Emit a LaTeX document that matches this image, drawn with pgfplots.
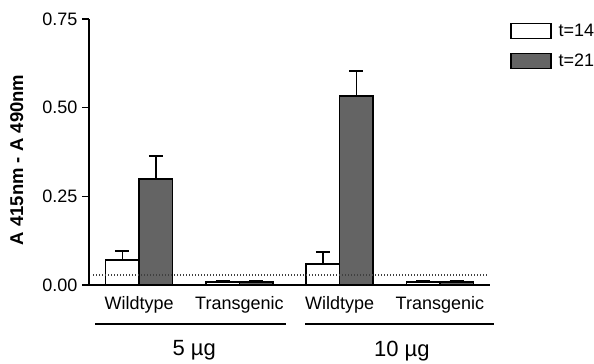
\documentclass[border=0pt]{standalone}
\usepackage{pgfplots}
\pgfplotsset{compat=1.18}
\usepackage{fontspec}
\setmainfont{Liberation Sans}
\definecolor{darkbar}{RGB}{100,100,100}
\pgfplotsset{boxlegend/.style={legend image code/.code={\draw[##1,line width=1.4bp] (0bp,-7.5bp) rectangle (40bp,7.5bp);}}}
\begin{document}
\begin{tikzpicture}
\path[use as bounding box] (0,0) rectangle (594bp,364bp);
\begin{axis}[
  scale only axis, width=401bp, height=266bp,
  at={(89bp,79bp)}, anchor=south west,
  xmin=-0.5, xmax=3.5, ymin=0, ymax=0.75,
  axis x line*=bottom, axis y line*=left,
  axis line style={-, line width=1.4bp},
  ytick={0,0.25,0.5,0.75},
  yticklabel style={/pgf/number format/fixed, /pgf/number format/precision=2,
    /pgf/number format/fixed zerofill, /pgf/number format/assume math mode=true,
    font=\fontsize{18bp}{20bp}\selectfont, xshift=-1bp},
  tick align=outside, major tick length=7bp,
  every tick/.style={line width=1.4bp, black},
  xtick={0,1,2,3}, xticklabels={Wildtype,Transgenic,Wildtype,Transgenic},
  x tick style={draw=none},
  xticklabel style={font=\fontsize{18bp}{20bp}\selectfont, yshift=-1bp},
  ylabel={A 415nm - A 490nm},
  every axis y label/.style={at={(axis description cs:-0.18,0.47)}, rotate=90, anchor=center,
    font=\fontsize{18.5bp}{20bp}\selectfont\bfseries},
  clip=false,
  ybar=0pt, bar width=33.5bp,
  legend style={at={(1.05,0.99)}, anchor=north west, draw=none, fill=none,
    inner sep=0pt, font=\fontsize{18bp}{20bp}\selectfont, row sep=12bp,
    cells={anchor=west},
    /tikz/every odd column/.append style={column sep=5bp}},
]
\addplot[boxlegend, draw=black, line width=1.4bp, fill=white,
  error bars/.cd, y dir=plus, y explicit,
  error bar style={line width=1.4bp, black},
  error mark options={rotate=90, mark size=7bp, line width=1.4bp, black}]
  coordinates {(0,0.070) +- (0,0.026) (1,0.008) +- (0,0.003) (2,0.059) +- (0,0.034) (3,0.008) +- (0,0.003)};
\addlegendentry{t=14}
\addplot[boxlegend, draw=black, line width=1.4bp, fill=darkbar,
  error bars/.cd, y dir=plus, y explicit,
  error bar style={line width=1.4bp, black},
  error mark options={rotate=90, mark size=7bp, line width=1.4bp, black}]
  coordinates {(0,0.299) +- (0,0.065) (1,0.008) +- (0,0.003) (2,0.533) +- (0,0.070) (3,0.008) +- (0,0.003)};
\addlegendentry{t=21}
\draw[line width=1.2bp, black!75, dash pattern=on 1.2bp off 1.8bp] (axis cs:-0.46,0.028) -- (axis cs:3.48,0.028);
\draw[line width=2bp] (axis cs:-0.44,-0.109) -- (axis cs:1.466,-0.109);
\draw[line width=2bp] (axis cs:1.656,-0.109) -- (axis cs:3.54,-0.109);
\node[font=\fontsize{22bp}{24bp}\selectfont] at (axis cs:0.55,-0.185) {5 µg};
\node[font=\fontsize{22bp}{24bp}\selectfont] at (axis cs:2.62,-0.185) {10 µg};
\end{axis}
\end{tikzpicture}
\end{document}
